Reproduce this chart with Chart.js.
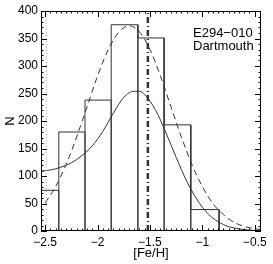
<!DOCTYPE html>
<html>
<head>
<meta charset="utf-8">
<script src="https://cdn.jsdelivr.net/npm/chart.js@4"></script>
<style>
  html, body { margin: 0; padding: 0; background: #fff; }
  canvas { display: block; }
</style>
</head>
<body>
<canvas id="chartCanvas" width="273" height="264"></canvas>
<script>
// histogram of [Fe/H]
const binEdges = [-2.54, -2.37, -2.12, -1.87, -1.615, -1.365, -1.11, -0.84];
const binCounts = [74, 180, 238, 375, 351, 193, 39];

// solid curve
const solidX = [-2.54, -2.45, -2.35, -2.25, -2.15, -2.05, -1.95, -1.85, -1.75, -1.65, -1.6, -1.55, -1.45, -1.35, -1.25, -1.15, -1.05, -0.95, -0.85, -0.75, -0.65, -0.55, -0.45];
const solidY = [109, 111, 116, 124, 137, 155, 181, 214, 243, 254, 254, 248, 221, 180, 134, 91, 57, 32, 17, 8, 4, 1.5, 0.5];

// dashed curve
const dashX = [-2.5, -2.4, -2.3, -2.2, -2.1, -2.0, -1.9, -1.8, -1.7, -1.6, -1.5, -1.4, -1.3, -1.2, -1.1, -1.0, -0.9, -0.8, -0.7, -0.6, -0.5, -0.45];
const dashY = [51, 81, 121, 171, 226, 282, 329, 361, 373, 362, 330, 282, 226, 171, 121, 81, 50, 30, 16, 8.5, 4, 3];

const meanFeH = -1.52;
const dotFeH = -2.49;
const yTop = 400;

const xTicks = [-2.5, -2, -1.5, -1, -0.5];
const yTicks = [0, 50, 100, 150, 200, 250, 300, 350, 400];
const xMinorStep = 0.05;
const yMinorStep = 10;

const labelLines = ['E294\u2212010', 'Dartmouth'];

// outline of the histogram bars
const histPoints = [];
binCounts.forEach((c, i) => {
    histPoints.push({x: binEdges[i], y: 0}, {x: binEdges[i], y: c},
                    {x: binEdges[i + 1], y: c}, {x: binEdges[i + 1], y: 0});
});

const fmt = v => String(v).replace('-', '\u2212');
const font = {family: "'Liberation Sans', Arial, sans-serif", size: 12};

const framePlugin = {
    id: 'frame',
    afterDatasetsDraw(chart) {
        const {ctx, chartArea: a, scales: {x, y}} = chart;
        ctx.save();
        ctx.strokeStyle = '#000';
        ctx.lineWidth = 1;
        ctx.strokeRect(a.left + 0.5, a.top + 0.5, a.right - a.left - 1, a.bottom - a.top - 1);
        ctx.beginPath();
        const xt = (v, len) => {
            const px = Math.round(x.getPixelForValue(v)) + 0.5;
            ctx.moveTo(px, a.bottom); ctx.lineTo(px, a.bottom - len);
            ctx.moveTo(px, a.top); ctx.lineTo(px, a.top + len);
        };
        const yt = (v, len) => {
            const py = Math.round(y.getPixelForValue(v)) + 0.5;
            ctx.moveTo(a.left, py); ctx.lineTo(a.left + len, py);
            ctx.moveTo(a.right, py); ctx.lineTo(a.right - len, py);
        };
        for (let k = Math.ceil(x.min / xMinorStep); k * xMinorStep <= x.max; k++) xt(k * xMinorStep, 2.5);
        xTicks.forEach(v => xt(v, 6));
        for (let k = 0; k * yMinorStep <= yTop; k++) yt(k * yMinorStep, 2.5);
        yTicks.forEach(v => yt(v, 6));
        ctx.stroke();

        ctx.fillStyle = '#000';
        ctx.font = "13px 'Liberation Sans', Arial, sans-serif";
        ctx.textBaseline = 'alphabetic';
        ctx.fillText(labelLines[0], 193, 37);
        ctx.fillText(labelLines[1], 193, 50);
        ctx.restore();
    }
};

const ctx = document.getElementById('chartCanvas').getContext('2d');
const chart = new Chart(ctx, {
    type: 'line',
    data: {
        datasets: [
            {
                data: [{x: dotFeH, y: 0}, {x: dotFeH, y: yTop}],
                borderColor: '#aaa', borderWidth: 1, borderDash: [1, 2],
                pointRadius: 0
            },
            {
                data: histPoints,
                borderColor: '#333', borderWidth: 1,
                pointRadius: 0, tension: 0
            },
            {
                data: solidX.map((v, i) => ({x: v, y: solidY[i]})),
                borderColor: '#333', borderWidth: 1,
                pointRadius: 0, cubicInterpolationMode: 'monotone'
            },
            {
                data: dashX.map((v, i) => ({x: v, y: dashY[i]})),
                borderColor: '#333', borderWidth: 1, borderDash: [6, 4],
                pointRadius: 0, cubicInterpolationMode: 'monotone'
            },
            {
                data: [{x: meanFeH, y: 0}, {x: meanFeH, y: yTop}],
                borderColor: '#333', borderWidth: 2.5, borderDash: [6, 3, 1, 3],
                pointRadius: 0
            }
        ]
    },
    options: {
        responsive: false,
        animation: false,
        devicePixelRatio: 1,
        layout: {padding: {top: 11, right: 12, left: 0, bottom: 0}},
        plugins: {legend: {display: false}, tooltip: {enabled: false}},
        scales: {
            x: {
                type: 'linear', min: -2.54, max: -0.44,
                grid: {display: false, drawTicks: false},
                border: {display: false},
                afterBuildTicks: s => { s.ticks = xTicks.map(v => ({value: v})); },
                afterFit: s => { s.height = 33; },
                ticks: {callback: fmt, font: font, color: '#000', padding: 4, maxRotation: 0},
                title: {display: true, text: '[Fe/H]', font: {family: font.family, size: 13}, color: '#000', padding: {top: 0, bottom: 3}}
            },
            y: {
                type: 'linear', min: 0, max: yTop,
                grid: {display: false, drawTicks: false},
                border: {display: false},
                afterBuildTicks: s => { s.ticks = yTicks.map(v => ({value: v})); },
                afterFit: s => { s.width = 41; },
                ticks: {font: font, color: '#000', padding: 3},
                title: {display: true, text: 'N', font: {family: font.family, size: 13}, color: '#000', padding: {top: 3, bottom: 0}}
            }
        }
    },
    plugins: [framePlugin]
});
</script>
</body>
</html>
